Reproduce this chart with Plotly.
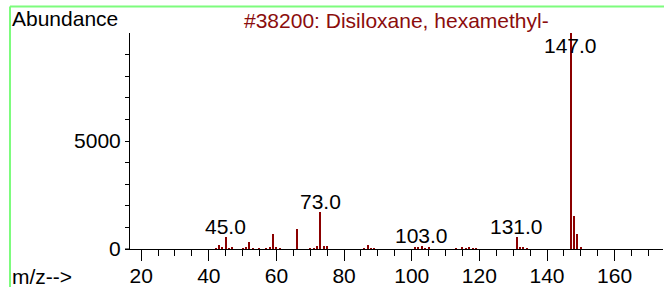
import plotly.graph_objects as go

# ---- data ----
mz = [42, 43, 44, 45, 46, 47, 50, 51, 52, 53, 55, 57, 58, 59, 60, 61, 66, 70, 71, 72,
      73, 74, 75, 86, 87, 88, 89, 101, 102, 103, 104, 105, 113, 115, 116, 117, 118, 119,
      131, 132, 133, 134, 147, 148, 149, 150]
abundance = [40, 180, 90, 570, 30, 50, 40, 80, 320, 30, 30, 40, 80, 700, 60, 40, 910, 30, 40, 120,
             1730, 120, 150, 30, 190, 40, 30, 50, 70, 140, 40, 70, 30, 50, 30, 90, 40, 20,
             560, 60, 110, 20, 9999, 1550, 710, 60]
label_mz = [45, 73, 103, 131, 147]
title_text = "#38200: Disiloxane, hexamethyl-"
x_tickvals = [20, 40, 60, 80, 100, 120, 140, 160]
y_tickvals = [0, 1000, 2000, 3000, 4000, 5000, 6000, 7000, 8000, 9000]
y_ticktext = ["0", "", "", "", "", "5000", "", "", "", ""]

# ---- style ----
FONT = "Liberation Sans, Arial, sans-serif"
FS = 21
BAR_COLOR = "#8b0000"
TITLE_COLOR = "#8b0d0d"
GREEN = "#7dfc7d"
LABEL_CAP = 8940

W, H = 664, 287
L, R, T, B = 130, 1, 33, 38
pw, ph = W - L - R, H - T - B


def px_x(p):
    return (p - L) / pw


def px_y(p):
    return (H - B - p) / ph


fig = go.Figure()
fig.add_trace(go.Bar(x=mz, y=abundance, width=0.32,
                     marker=dict(color=BAR_COLOR, line=dict(width=0)),
                     hoverinfo="x+y"))

ab_map = dict(zip(mz, abundance))
annotations = []
for m in label_mz:
    annotations.append(dict(x=m, y=min(ab_map[m], LABEL_CAP), xref="x", yref="y",
                            text=f"{m:.1f}", showarrow=False, yanchor="middle",
                            yshift=10.5, font=dict(family=FONT, size=FS, color="black")))

annotations += [
    dict(x=0.5, y=px_y(21), xref="paper", yref="paper", text=title_text, showarrow=False,
         xanchor="center", yanchor="middle", font=dict(family=FONT, size=FS, color=TITLE_COLOR)),
    dict(x=px_x(10), y=px_y(19), xref="paper", yref="paper", text="Abundance", showarrow=False,
         xanchor="left", yanchor="middle", font=dict(family=FONT, size=FS, color="black")),
    dict(x=px_x(10), y=px_y(276), xref="paper", yref="paper", text="m/z-->", showarrow=False,
         xanchor="left", yanchor="middle", font=dict(family=FONT, size=FS, color="black")),
    dict(x=px_x(10), y=px_y(-8), xref="paper", yref="paper", text="m/z-->", showarrow=False,
         xanchor="left", yanchor="middle", font=dict(family=FONT, size=FS, color="black")),
]

shapes = [
    dict(type="line", xref="paper", yref="paper", x0=px_x(10), x1=px_x(664), y0=px_y(6.5), y1=px_y(6.5),
         line=dict(color=GREEN, width=2)),
    dict(type="line", xref="paper", yref="paper", x0=px_x(10), x1=px_x(10), y0=px_y(6.5), y1=px_y(287),
         line=dict(color=GREEN, width=2)),
    dict(type="line", xref="paper", yref="paper", x0=px_x(125), x1=px_x(130), y0=0, y1=0,
         line=dict(color="black", width=1)),
]

fig.update_layout(
    width=W, height=H,
    margin=dict(l=L, r=R, t=T, b=B, pad=0, autoexpand=False),
    paper_bgcolor="white", plot_bgcolor="white",
    showlegend=False, bargap=0,
    font=dict(family=FONT, size=FS, color="black"),
    annotations=annotations, shapes=shapes,
    xaxis=dict(range=[16.7, 174.3], tickmode="array", tickvals=x_tickvals, automargin=False,
               ticks="outside", ticklen=11, tickwidth=1, tickcolor="black", ticklabelstandoff=-3,
               showline=True, linecolor="black", linewidth=1, showgrid=False, zeroline=False,
               tickfont=dict(family=FONT, size=FS, color="black"),
               minor=dict(dtick=5, tick0=0, ticks="outside", ticklen=6, tickcolor="black", showgrid=False)),
    yaxis=dict(range=[0, 10000], tickmode="array", tickvals=y_tickvals, ticktext=y_ticktext,
               automargin=False,
               ticks="outside", ticklen=4, tickwidth=1, tickcolor="black",
               showline=True, linecolor="black", linewidth=1, showgrid=False, zeroline=False,
               tickfont=dict(family=FONT, size=FS, color="black")),
)

fig.write_html("out.html", config={"displayModeBar": False},
               post_script="document.body.style.margin='0px';document.body.style.overflow='hidden';")
